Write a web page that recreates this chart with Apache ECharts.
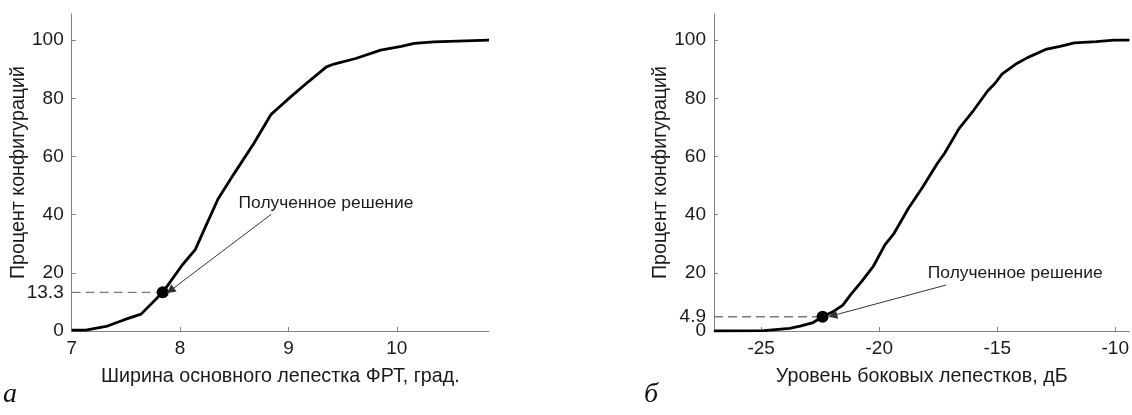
<!DOCTYPE html>
<html><head><meta charset="utf-8">
<script src="https://cdn.jsdelivr.net/npm/echarts@6/dist/echarts.min.js"></script>
<style>html,body{margin:0;padding:0;background:#fff}#c{width:1132px;height:415px}</style>
</head><body><div id="c"></div>
<script>
// Panel a: main lobe width (deg) vs percent of configurations
const curveA = [[7.0,0.3],[7.13,0.3],[7.33,1.7],[7.48,3.8],[7.64,5.8],[7.84,13.3],[8.02,22.7],[8.14,28],[8.22,34.7],[8.35,45.4],[8.50,54.2],[8.68,64.5],[8.84,74.5],[8.90,76.5],[9.02,80.5],[9.18,85.6],[9.35,90.8],[9.42,91.8],[9.62,93.7],[9.85,96.6],[10.04,97.9],[10.16,98.9],[10.34,99.4],[10.85,100]];
const solutionA = [7.84, 13.3];
const xTicksA = [7, 8, 9, 10];
const xRangeA = [7, 10.85];
const arrowA = [[8.84, 40.1], [7.91, 13.9]];
const noteA = [8.54, 44.0];

// Panel б: sidelobe level (dB) vs percent of configurations
const curveB = [[-27,0],[-24.88,0.1],[-23.8,0.9],[-23.35,1.7],[-22.8,2.9],[-22.4,4.9],[-21.97,6.6],[-21.54,8.9],[-21.2,12.6],[-20.75,17],[-20.26,22.1],[-19.76,29.6],[-19.37,33.6],[-18.76,42.2],[-18.15,49.6],[-17.54,57.6],[-17.23,61.1],[-16.62,69.6],[-16.0,75.9],[-15.4,82.6],[-15.1,85.1],[-14.8,88.3],[-14.17,92],[-13.72,94],[-12.95,96.8],[-12.34,97.9],[-11.73,99.1],[-10.8,99.5],[-10.05,100],[-9.4,100]];
const solutionB = [-22.4, 4.9];
const xTicksB = [-25, -20, -15, -10];
const xRangeB = [-27, -9.4];
const arrowB = [[-17.17, 15.8], [-21.97, 5.3]];
const noteB = [-17.94, 19.9];

const yTicks = [0, 20, 40, 60, 80, 100];
const yMax = 109;
const xNameA = 'Ширина основного лепестка ФРТ, град.';
const xNameB = 'Уровень боковых лепестков, дБ';
const yName = 'Процент конфигураций';
const noteText = 'Полученное решение';
const panelLetters = ['а', 'б'];

const FONT = '"Liberation Sans", Arial, sans-serif';
const AX = '#808080';
const TXT = '#1a1a1a';

function xAxis(idx, range, ticks, name) {
  return {
    type: 'value', gridIndex: idx, min: range[0], max: range[1],
    name: name, nameLocation: 'middle', nameGap: 36,
    nameTextStyle: {fontFamily: FONT, fontSize: 19.7, color: TXT},
    axisLine: {lineStyle: {color: AX, width: 1}},
    axisTick: {inside: true, length: 4, lineStyle: {color: AX}, customValues: ticks},
    axisLabel: {fontFamily: FONT, fontSize: 19, color: TXT, margin: 8, customValues: ticks},
    splitLine: {show: false}
  };
}
function yAxis(idx) {
  return {
    type: 'value', gridIndex: idx, min: 0, max: yMax,
    name: yName, nameLocation: 'middle', nameGap: 35.5,
    nameTextStyle: {fontFamily: FONT, fontSize: 19.7, color: TXT},
    axisLine: {show: true, lineStyle: {color: AX, width: 1}},
    axisTick: {show: true, inside: true, length: 4, lineStyle: {color: AX}, customValues: yTicks},
    axisLabel: {fontFamily: FONT, fontSize: 19, color: TXT, margin: 8, customValues: yTicks,
      hideOverlap: false, showMinLabel: true, showMaxLabel: true},
    splitLine: {show: false}
  };
}
// overlay axis carrying only the solution's value label
function yAxisExtra(idx, value) {
  return {
    type: 'value', gridIndex: idx, min: 0, max: yMax, position: 'left',
    axisLine: {show: false}, axisTick: {show: false}, splitLine: {show: false},
    axisLabel: {fontFamily: FONT, fontSize: 19, color: TXT, margin: 8, customValues: [value],
      hideOverlap: false, showMinLabel: true, showMaxLabel: true, formatter: v => String(v)}
  };
}
function panelSeries(idx, curve, sol, range, arrow, note) {
  return [
    {type: 'line', xAxisIndex: idx, yAxisIndex: idx, data: [[range[0], sol[1]], sol],
     symbol: 'none', lineStyle: {color: '#7a7a7a', width: 1.3, type: [9, 5]}, silent: true, z: 1},
    {type: 'line', xAxisIndex: idx, yAxisIndex: idx, data: curve, symbol: 'none',
     lineStyle: {color: '#000', width: 2.8}, silent: true, z: 2},
    {type: 'scatter', xAxisIndex: idx, yAxisIndex: idx, data: [sol], symbol: 'circle', symbolSize: 12,
     itemStyle: {color: '#000', opacity: 1}, silent: true, z: 3},
    {type: 'lines', coordinateSystem: 'cartesian2d', xAxisIndex: idx, yAxisIndex: idx,
     data: [{coords: arrow}], symbol: ['none', 'triangle'], symbolSize: [0, 9],
     lineStyle: {color: '#333', width: 1, opacity: 1}, silent: true, z: 4},
    {type: 'scatter', xAxisIndex: idx, yAxisIndex: idx, data: [note], symbolSize: 0, silent: true,
     itemStyle: {opacity: 1},
     label: {show: true, position: 'right', distance: 0, formatter: noteText,
       fontFamily: FONT, fontSize: 17.4, color: TXT, opacity: 1}}
  ];
}

const chart = echarts.init(document.getElementById('c'), null, {renderer: 'canvas'});
chart.setOption({
  animation: false,
  backgroundColor: '#fff',
  grid: [
    {left: 71.7, top: 14, bottom: 84, width: 417.3, containLabel: false},
    {left: 714, top: 14, bottom: 84, right: 0, containLabel: false}
  ],
  xAxis: [xAxis(0, xRangeA, xTicksA, xNameA), xAxis(1, xRangeB, xTicksB, xNameB)],
  yAxis: [yAxis(0), yAxis(1), yAxisExtra(0, solutionA[1]), yAxisExtra(1, solutionB[1])],
  graphic: [
    {type: 'text', left: 3, top: 381, style: {text: panelLetters[0], font: 'italic 28px "Liberation Serif", serif', fill: '#111'}},
    {type: 'text', left: 644, top: 381, style: {text: panelLetters[1], font: 'italic 28px "Liberation Serif", serif', fill: '#111'}}
  ],
  series: panelSeries(0, curveA, solutionA, xRangeA, arrowA, noteA)
    .concat(panelSeries(1, curveB, solutionB, xRangeB, arrowB, noteB))
});
</script></body></html>
